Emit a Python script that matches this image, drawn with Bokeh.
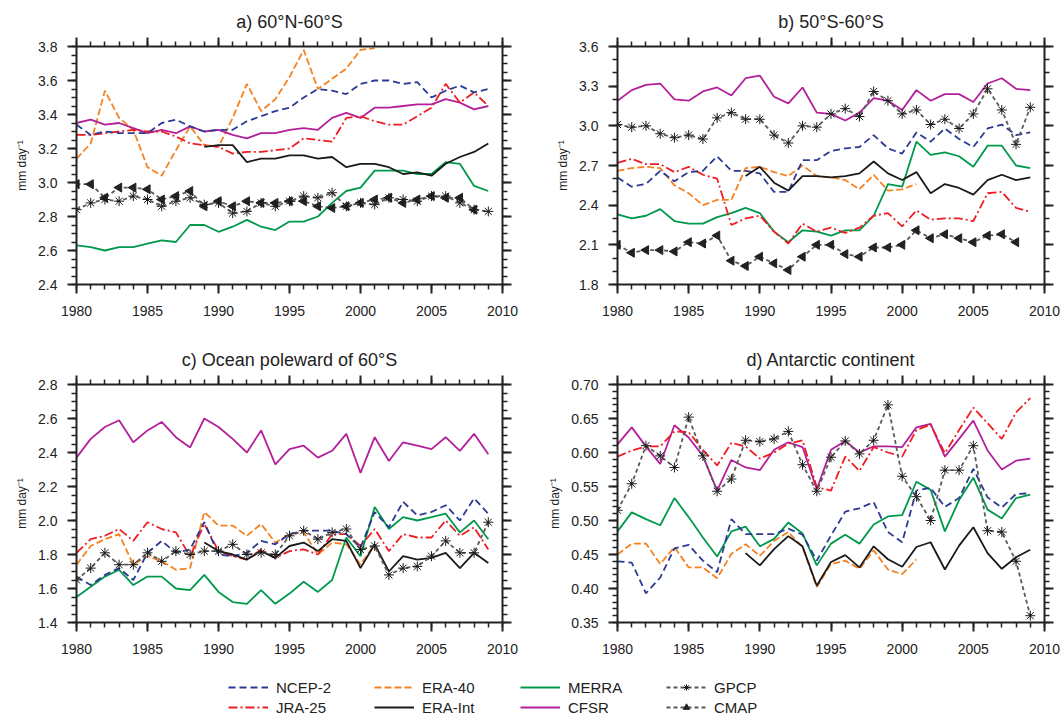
import numpy as np
from bokeh.plotting import figure
from bokeh.models import (LinearAxis, FixedTicker, PrintfTickFormatter, CustomJSTickFormatter,
                          Range1d, Legend, LegendItem, ColumnDataSource)
from bokeh.layouts import column, row
from bokeh.embed import file_html
from bokeh.resources import INLINE

# ---------------- data ----------------
YEARS = list(range(1980, 2010))
YEARS_ERA40 = list(range(1980, 2002))
YEARS_ERAINT = list(range(1989, 2010))
YEARS_CMAP = list(range(1980, 2009))

# a) 60N-60S
NCEP2_a = [3.34, 3.28, 3.30, 3.29, 3.29, 3.29, 3.35, 3.37, 3.33, 3.30, 3.31, 3.31, 3.36, 3.39, 3.42,
           3.44, 3.50, 3.55, 3.54, 3.52, 3.58, 3.60, 3.60, 3.58, 3.59, 3.50, 3.54, 3.57, 3.53, 3.55]
ERA40_a = [3.14, 3.23, 3.54, 3.38, 3.31, 3.09, 3.04, 3.19, 3.33, 3.22, 3.21, 3.38, 3.58, 3.42, 3.49,
           3.62, 3.78, 3.55, 3.61, 3.67, 3.78, 3.79]
JRA25_a = [3.28, 3.28, 3.29, 3.30, 3.31, 3.30, 3.30, 3.27, 3.23, 3.22, 3.21, 3.17, 3.18, 3.18, 3.19,
           3.20, 3.26, 3.25, 3.24, 3.38, 3.39, 3.36, 3.34, 3.34, 3.39, 3.44, 3.58, 3.47, 3.53, 3.45]
MERRA_a = [2.63, 2.62, 2.60, 2.62, 2.62, 2.64, 2.66, 2.65, 2.75, 2.75, 2.71, 2.74, 2.78, 2.74, 2.72,
           2.77, 2.77, 2.80, 2.88, 2.95, 2.97, 3.07, 3.07, 3.07, 3.05, 3.05, 3.12, 3.11, 2.98, 2.95]
ERAINT_a = [3.21, 3.22, 3.22, 3.12, 3.14, 3.14, 3.16, 3.16, 3.14, 3.15, 3.09, 3.11, 3.11, 3.09, 3.05,
            3.06, 3.04, 3.11, 3.15, 3.18, 3.23]
CFSR_a = [3.35, 3.37, 3.34, 3.35, 3.32, 3.29, 3.31, 3.29, 3.33, 3.30, 3.31, 3.28, 3.26, 3.29, 3.29,
          3.31, 3.32, 3.31, 3.38, 3.41, 3.38, 3.44, 3.44, 3.45, 3.46, 3.46, 3.49, 3.47, 3.43, 3.45]
GPCP_a = [2.84, 2.88, 2.90, 2.89, 2.92, 2.90, 2.86, 2.89, 2.91, 2.87, 2.88, 2.82, 2.83, 2.88, 2.86,
          2.89, 2.92, 2.91, 2.94, 2.86, 2.88, 2.87, 2.91, 2.90, 2.89, 2.92, 2.92, 2.88, 2.84, 2.83]
CMAP_a = [2.99, 2.99, 2.91, 2.97, 2.97, 2.96, 2.90, 2.92, 2.95, 2.86, 2.89, 2.86, 2.89, 2.88, 2.88,
          2.89, 2.89, 2.86, 2.85, 2.86, 2.88, 2.90, 2.91, 2.88, 2.90, 2.92, 2.91, 2.91, 2.84]

# b) 50S-60S
NCEP2_b = [2.61, 2.54, 2.56, 2.66, 2.58, 2.65, 2.66, 2.77, 2.66, 2.66, 2.64, 2.50, 2.50, 2.74, 2.74,
           2.81, 2.83, 2.84, 2.93, 2.83, 2.79, 2.95, 2.88, 2.98, 2.90, 2.84, 2.98, 3.01, 2.93, 2.95]
ERA40_b = [2.66, 2.68, 2.69, 2.68, 2.55, 2.49, 2.40, 2.44, 2.44, 2.68, 2.69, 2.65, 2.62, 2.70, 2.62,
           2.61, 2.59, 2.52, 2.63, 2.51, 2.52, 2.56]
JRA25_b = [2.72, 2.75, 2.71, 2.71, 2.65, 2.69, 2.63, 2.60, 2.25, 2.30, 2.32, 2.20, 2.11, 2.26, 2.20,
           2.23, 2.19, 2.23, 2.32, 2.34, 2.24, 2.36, 2.29, 2.30, 2.30, 2.28, 2.49, 2.50, 2.38, 2.35]
MERRA_b = [2.33, 2.30, 2.32, 2.37, 2.28, 2.26, 2.26, 2.31, 2.34, 2.38, 2.34, 2.20, 2.12, 2.21, 2.20,
           2.17, 2.21, 2.21, 2.32, 2.56, 2.54, 2.88, 2.78, 2.80, 2.77, 2.69, 2.85, 2.85, 2.70, 2.68]
ERAINT_b = [2.62, 2.69, 2.57, 2.51, 2.62, 2.62, 2.61, 2.62, 2.64, 2.73, 2.64, 2.59, 2.65, 2.49, 2.56,
            2.53, 2.48, 2.59, 2.63, 2.59, 2.61]
CFSR_b = [3.19, 3.27, 3.31, 3.32, 3.20, 3.19, 3.26, 3.29, 3.23, 3.36, 3.38, 3.22, 3.17, 3.29, 3.10,
          3.09, 3.04, 3.10, 3.21, 3.19, 3.12, 3.27, 3.19, 3.24, 3.24, 3.18, 3.32, 3.36, 3.28, 3.27]
GPCP_b = [3.01, 2.99, 3.00, 2.94, 2.91, 2.93, 2.90, 3.06, 3.10, 3.05, 3.05, 2.93, 2.87, 3.00, 2.99,
          3.09, 3.13, 3.07, 3.26, 3.19, 3.09, 3.12, 3.01, 3.05, 2.98, 3.09, 3.28, 3.12, 2.86, 3.14]
CMAP_b = [2.10, 2.04, 2.06, 2.06, 2.05, 2.12, 2.11, 2.17, 1.98, 1.94, 2.01, 1.96, 1.91, 2.01, 2.10,
          2.10, 2.03, 2.01, 2.08, 2.08, 2.10, 2.21, 2.15, 2.18, 2.15, 2.12, 2.17, 2.18, 2.12]

# c) Ocean poleward of 60S
NCEP2_c = [1.67, 1.62, 1.68, 1.72, 1.65, 1.81, 1.88, 1.81, 1.83, 1.99, 1.80, 1.79, 1.81, 1.88, 1.86,
           1.92, 1.94, 1.94, 1.94, 1.92, 1.84, 2.05, 1.96, 2.11, 2.03, 2.05, 2.09, 2.00, 2.13, 2.04]
ERA40_c = [1.74, 1.85, 1.89, 1.92, 1.74, 1.79, 1.76, 1.71, 1.72, 2.05, 1.97, 1.97, 1.91, 1.98, 1.87,
           1.92, 1.93, 1.80, 1.87, 1.86, 1.74, 1.86]
JRA25_c = [1.81, 1.89, 1.91, 1.95, 1.88, 1.99, 1.95, 1.93, 1.79, 1.98, 1.82, 1.79, 1.77, 1.83, 1.78,
           1.82, 1.83, 1.80, 1.92, 1.92, 1.85, 1.95, 1.82, 1.92, 1.90, 1.90, 2.00, 1.91, 1.96, 1.83]
MERRA_c = [1.55, 1.61, 1.67, 1.71, 1.62, 1.67, 1.67, 1.60, 1.59, 1.68, 1.58, 1.52, 1.51, 1.59, 1.51,
           1.57, 1.64, 1.58, 1.65, 1.90, 1.79, 2.08, 1.95, 2.02, 2.00, 2.02, 2.04, 1.93, 2.00, 1.89]
ERAINT_c = [1.87, 1.82, 1.80, 1.77, 1.82, 1.78, 1.85, 1.87, 1.82, 1.89, 1.88, 1.72, 1.86, 1.70, 1.79,
            1.77, 1.78, 1.81, 1.72, 1.81, 1.75]
CFSR_c = [2.37, 2.48, 2.55, 2.59, 2.46, 2.53, 2.58, 2.49, 2.43, 2.60, 2.55, 2.48, 2.40, 2.53, 2.33,
          2.42, 2.44, 2.37, 2.41, 2.51, 2.28, 2.49, 2.35, 2.46, 2.44, 2.42, 2.49, 2.41, 2.51, 2.39]
GPCP_c = [1.65, 1.72, 1.81, 1.74, 1.74, 1.81, 1.76, 1.82, 1.80, 1.82, 1.82, 1.86, 1.80, 1.81, 1.80,
          1.91, 1.94, 1.89, 1.93, 1.95, 1.83, 1.85, 1.68, 1.72, 1.73, 1.79, 1.88, 1.81, 1.81, 1.99]

# d) Antarctic continent
NCEP2_d = [0.440, 0.438, 0.393, 0.416, 0.459, 0.464, 0.441, 0.424, 0.502, 0.480, 0.480, 0.480, 0.488,
           0.479, 0.441, 0.478, 0.513, 0.518, 0.527, 0.483, 0.468, 0.544, 0.548, 0.520, 0.533, 0.576,
           0.534, 0.519, 0.539, 0.540]
ERA40_d = [0.450, 0.466, 0.466, 0.436, 0.461, 0.431, 0.431, 0.415, 0.451, 0.465, 0.448, 0.470, 0.483,
           0.461, 0.402, 0.436, 0.441, 0.429, 0.456, 0.428, 0.421, 0.443]
JRA25_d = [0.594, 0.603, 0.609, 0.609, 0.631, 0.630, 0.604, 0.581, 0.614, 0.609, 0.591, 0.600, 0.613,
           0.618, 0.549, 0.544, 0.594, 0.573, 0.608, 0.600, 0.594, 0.633, 0.641, 0.599, 0.633, 0.666,
           0.643, 0.620, 0.659, 0.680]
MERRA_d = [0.484, 0.512, 0.502, 0.493, 0.533, 0.505, 0.475, 0.447, 0.484, 0.491, 0.462, 0.473, 0.497,
           0.481, 0.434, 0.466, 0.479, 0.466, 0.494, 0.506, 0.508, 0.557, 0.545, 0.484, 0.530, 0.563,
           0.516, 0.503, 0.533, 0.538]
ERAINT_d = [0.452, 0.434, 0.458, 0.477, 0.462, 0.404, 0.439, 0.449, 0.431, 0.462, 0.443, 0.432, 0.461,
            0.468, 0.428, 0.463, 0.490, 0.452, 0.429, 0.446, 0.457]
CFSR_d = [0.612, 0.637, 0.609, 0.583, 0.640, 0.622, 0.595, 0.544, 0.589, 0.578, 0.574, 0.604, 0.615,
          0.608, 0.546, 0.604, 0.617, 0.600, 0.609, 0.609, 0.608, 0.637, 0.642, 0.594, 0.620, 0.647,
          0.603, 0.575, 0.588, 0.591]
GPCP_d = [0.515, 0.554, 0.610, 0.595, 0.578, 0.652, 0.595, 0.543, 0.561, 0.618, 0.616, 0.620, 0.631,
          0.582, 0.543, 0.593, 0.617, 0.598, 0.618, 0.670, 0.565, 0.535, 0.500, 0.574, 0.574, 0.610,
          0.485, 0.483, 0.440, 0.360]

TITLES = ["a) 60\u00b0N-60\u00b0S", "b) 50\u00b0S-60\u00b0S",
          "c) Ocean poleward of 60\u00b0S", "d) Antarctic continent"]
X_TICKS = [1980, 1985, 1990, 1995, 2000, 2005, 2010]
Y_LABEL = "mm day\u207b\u00b9"
LEGEND_ORDER = ["NCEP-2", "ERA-40", "MERRA", "GPCP", "JRA-25", "ERA-Int", "CFSR", "CMAP"]

# ---------------- styles ----------------
FONT = "Liberation Sans"
AX = "#222222"
STY = {
    "NCEP-2": dict(color="#2b3a93", dash="7 4"),
    "ERA-40": dict(color="#f58220", dash="7 3"),
    "MERRA": dict(color="#00994c", dash="solid"),
    "JRA-25": dict(color="#ee1d23", dash="9 3 2 3"),
    "ERA-Int": dict(color="#1a1a1a", dash="solid"),
    "CFSR": dict(color="#b3209a", dash="solid"),
    "GPCP": dict(color="#5a5a5a", dash="4 3"),
    "CMAP": dict(color="#5a5a5a", dash="4 3"),
}
LW = 1.8


def draw_series(p, name, xs, ys):
    s = STY[name]
    src = ColumnDataSource(dict(x=xs, y=ys))
    rs = [p.line("x", "y", source=src, line_color=s["color"], line_width=LW, line_dash=s["dash"])]
    if name == "GPCP":
        rs.append(p.scatter("x", "y", source=src, marker="asterisk", size=10,
                            line_color="#1a1a1a", line_width=1.0))
    elif name == "CMAP":
        rs.append(p.scatter("x", "y", source=src, marker="triangle", size=9, angle=np.pi / 2,
                            fill_color="#222222", line_color="#222222"))
    return rs


def style_axis(ax, labels=True):
    ax.axis_line_width = 2
    ax.axis_line_color = AX
    ax.major_tick_line_width = 2
    ax.major_tick_line_color = AX
    ax.minor_tick_line_width = 1.5
    ax.minor_tick_line_color = AX
    ax.major_tick_out = 9
    ax.major_tick_in = 0
    ax.minor_tick_out = 5
    ax.minor_tick_in = 0
    ax.major_label_text_font = FONT
    ax.major_label_text_font_size = "14px"
    ax.major_label_text_color = AX
    ax.major_label_standoff = 12
    if not labels:
        ax.formatter = CustomJSTickFormatter(code="return ''")
        ax.major_label_standoff = 0


def make_panel(title, yr, ymajor, yminor, fmt, series, left_border, right_border, bottom_border, frame_w):
    p = figure(frame_width=frame_w, frame_height=238, x_range=Range1d(1980, 2010),
               y_range=Range1d(*yr), output_backend="svg", toolbar_location=None,
               min_border_left=left_border, min_border_right=right_border,
               min_border_top=46, min_border_bottom=bottom_border)
    p.outline_line_color = None
    p.xgrid.visible = False
    p.ygrid.visible = False
    p.background_fill_color = "white"
    p.border_fill_color = "white"
    p.title.text = title
    p.title.text_font = FONT
    p.title.text_font_size = "18px"
    p.title.text_font_style = "normal"
    p.title.text_color = AX
    p.title.align = "center"
    p.title.standoff = 12

    xt = FixedTicker(ticks=X_TICKS, minor_ticks=list(range(1980, 2011)))
    yt = FixedTicker(ticks=ymajor, minor_ticks=yminor)

    xa = p.xaxis[0]
    xa.ticker = xt
    xa.formatter = PrintfTickFormatter(format="%d")
    style_axis(xa)
    ya = p.yaxis[0]
    ya.ticker = yt
    ya.formatter = PrintfTickFormatter(format=fmt)
    style_axis(ya)
    ya.major_label_standoff = 10
    ya.axis_label = Y_LABEL
    ya.axis_label_text_font = FONT
    ya.axis_label_text_font_size = "12px"
    ya.axis_label_text_font_style = "normal"
    ya.axis_label_text_color = AX
    ya.axis_label_standoff = 6

    top = LinearAxis(ticker=xt)
    style_axis(top, labels=False)
    p.add_layout(top, "above")
    right = LinearAxis(ticker=yt)
    style_axis(right, labels=False)
    p.add_layout(right, "right")

    for name, xs, ys in series:
        draw_series(p, name, xs, ys)
    return p


def ticks(a, b, step):
    n = int(round((b - a) / step))
    return [round(a + i * step, 4) for i in range(n + 1)]


SER_A = [("ERA-40", YEARS_ERA40, ERA40_a), ("MERRA", YEARS, MERRA_a), ("CFSR", YEARS, CFSR_a),
         ("JRA-25", YEARS, JRA25_a), ("NCEP-2", YEARS, NCEP2_a), ("ERA-Int", YEARS_ERAINT, ERAINT_a),
         ("CMAP", YEARS_CMAP, CMAP_a), ("GPCP", YEARS, GPCP_a)]
SER_B = [("ERA-40", YEARS_ERA40, ERA40_b), ("MERRA", YEARS, MERRA_b), ("CFSR", YEARS, CFSR_b),
         ("JRA-25", YEARS, JRA25_b), ("NCEP-2", YEARS, NCEP2_b), ("ERA-Int", YEARS_ERAINT, ERAINT_b),
         ("CMAP", YEARS_CMAP, CMAP_b), ("GPCP", YEARS, GPCP_b)]
SER_C = [("ERA-40", YEARS_ERA40, ERA40_c), ("MERRA", YEARS, MERRA_c), ("CFSR", YEARS, CFSR_c),
         ("JRA-25", YEARS, JRA25_c), ("NCEP-2", YEARS, NCEP2_c), ("ERA-Int", YEARS_ERAINT, ERAINT_c),
         ("GPCP", YEARS, GPCP_c)]
SER_D = [("ERA-40", YEARS_ERA40, ERA40_d), ("MERRA", YEARS, MERRA_d), ("CFSR", YEARS, CFSR_d),
         ("JRA-25", YEARS, JRA25_d), ("NCEP-2", YEARS, NCEP2_d), ("ERA-Int", YEARS_ERAINT, ERAINT_d),
         ("GPCP", YEARS, GPCP_d)]

pa = make_panel(TITLES[0], (2.4, 3.8), ticks(2.4, 3.8, 0.2), ticks(2.4, 3.8, 0.05), "%.1f",
                SER_A, 76, 28, 54, 426)
pb = make_panel(TITLES[1], (1.8, 3.6), ticks(1.8, 3.6, 0.3), ticks(1.8, 3.6, 0.1), "%.1f",
                SER_B, 87, 19, 54, 427)
pc = make_panel(TITLES[2], (1.4, 2.8), ticks(1.4, 2.8, 0.2), ticks(1.4, 2.8, 0.05), "%.1f",
                SER_C, 76, 28, 40, 426)
pd_ = make_panel(TITLES[3], (0.35, 0.70), ticks(0.35, 0.70, 0.05), ticks(0.35, 0.70, 0.01), "%.2f",
                 SER_D, 87, 19, 40, 427)

# ---------------- legend (renderers lie outside this strip's visible range) ----------------
pl = figure(width=1063, height=61, x_range=Range1d(0, 1), y_range=Range1d(0, 1),
            output_backend="svg", toolbar_location=None, min_border=0,
            x_axis_type=None, y_axis_type=None)
pl.outline_line_color = None
pl.xgrid.visible = False
pl.ygrid.visible = False
ser_lookup = {name: (xs, ys) for name, xs, ys in SER_A}
items = []
for name in LEGEND_ORDER:
    xs, ys = ser_lookup[name]
    rs = draw_series(pl, name, xs, ys)
    items.append(LegendItem(label=name, renderers=rs))
leg = Legend(items=items, ncols=4, orientation="horizontal", location=(228, 7))
leg.label_text_font = FONT
leg.label_text_font_size = "15px"
leg.label_text_color = AX
leg.glyph_width = 40
leg.glyph_height = 16
leg.label_standoff = 8
leg.label_width = 96
leg.label_height = 18
leg.spacing = 2
leg.padding = 0
leg.margin = 0
leg.border_line_color = None
leg.background_fill_alpha = 0
pl.add_layout(leg, "center")

layout = column(row(pa, pb), row(pc, pd_), pl)
open("out.html", "w").write(file_html(layout, INLINE))
